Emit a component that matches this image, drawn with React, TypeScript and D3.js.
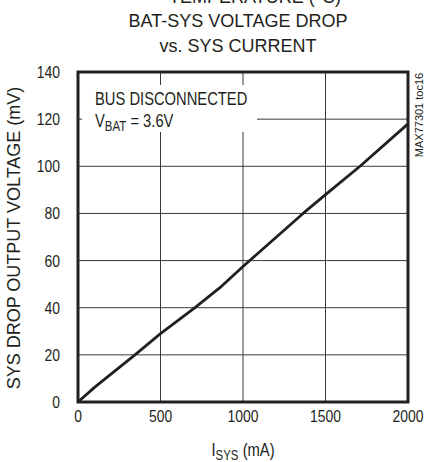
import React from 'react';
import * as d3 from 'd3';

// I_SYS (mA) vs drop (mV)
const currentMA = [0, 100, 345, 500, 709, 860, 1000, 1364, 1500, 1709, 2000];
const dropMV = [0, 6.2, 20, 29, 40, 48.5, 57.5, 80, 88, 100, 118];

const xTicks = [0, 500, 1000, 1500, 2000];
const yTicks = [0, 20, 40, 60, 80, 100, 120, 140];

const W = 428;
const H = 462;
const m = { left: 78, right: 408, top: 72, bottom: 402 };

const SANS = '"Liberation Sans", Arial, sans-serif';
const INK = '#231f20';
const NARROW_K = 0.82; // no narrow font installed, squeeze instead

// text squeezed horizontally to mimic Arial Narrow
function Narrow({ x, y, anchor = 'start', size = 17, children }: any) {
  return (
    <text
      transform={`translate(${x},${y}) scale(${NARROW_K},1)`}
      textAnchor={anchor}
      fontFamily={SANS}
      fontSize={size}
      fill={INK}
    >
      {children}
    </text>
  );
}

export default function App() {
  const x = d3.scaleLinear().domain([0, 2000]).range([m.left, m.right]);
  const y = d3.scaleLinear().domain([0, 140]).range([m.bottom, m.top]);

  const line = d3
    .line<number>()
    .x((_, i) => x(currentMA[i]))
    .y((d) => y(d));

  return (
    <svg
      width={W}
      height={H}
      style={{ position: 'absolute', left: 0, top: 0, background: '#fff' }}
    >
      {/* title */}
      <g fontFamily={SANS} fontSize={18} fill={INK} textAnchor="middle">
        <text x={255} y={3}>TEMPERATURE (°C)</text>
        <text x={238} y={27}>BAT-SYS VOLTAGE DROP</text>
        <text x={238} y={52}>vs. SYS CURRENT</text>
      </g>

      {/* grid */}
      <g stroke="#3a3a3a" strokeWidth={1}>
        {xTicks.slice(1, -1).map((t) => (
          <line key={'gx' + t} x1={x(t)} x2={x(t)} y1={m.top} y2={m.bottom} />
        ))}
        {yTicks.slice(1, -1).map((t) => (
          <line key={'gy' + t} x1={m.left} x2={m.right} y1={y(t)} y2={y(t)} />
        ))}
      </g>

      {/* legend box covers grid */}
      <rect x={82} y={85} width={175} height={47} fill="#fff" />
      <Narrow x={95} y={105} size={18}>BUS DISCONNECTED</Narrow>
      <Narrow x={95} y={127} size={18}>
        V<tspan fontSize={14} dy={4}>BAT</tspan>
        <tspan dy={-4}> = 3.6V</tspan>
      </Narrow>

      {/* curve */}
      <path
        d={line(dropMV) || ''}
        fill="none"
        stroke={INK}
        strokeWidth={2.8}
        strokeLinejoin="round"
      />

      {/* frame */}
      <rect
        x={m.left}
        y={m.top}
        width={m.right - m.left}
        height={m.bottom - m.top}
        fill="none"
        stroke={INK}
        strokeWidth={3}
      />

      {/* tick labels */}
      {yTicks.map((t) => (
        <Narrow key={'yl' + t} x={60} y={y(t) + 6} anchor="end" size={17}>
          {t}
        </Narrow>
      ))}
      {xTicks.map((t) => (
        <Narrow key={'xl' + t} x={x(t)} y={422} anchor="middle" size={17}>
          {t}
        </Narrow>
      ))}

      {/* axis titles */}
      <Narrow x={243} y={456} anchor="middle" size={18}>
        I<tspan fontSize={14} dy={4}>SYS</tspan>
        <tspan dy={-4}> (mA)</tspan>
      </Narrow>
      <text
        fontFamily={SANS}
        fontSize={18}
        fill={INK}
        textAnchor="middle"
        transform={`translate(20, ${(m.top + m.bottom) / 2 + 1}) rotate(-90)`}
      >
        SYS DROP OUTPUT VOLTAGE (mV)
      </text>

      {/* part number */}
      <text
        fontFamily={SANS}
        fontSize={11}
        fill={INK}
        textAnchor="middle"
        transform={`translate(423, 115) rotate(-90)`}
      >
        MAX77301 toc16
      </text>
    </svg>
  );
}
